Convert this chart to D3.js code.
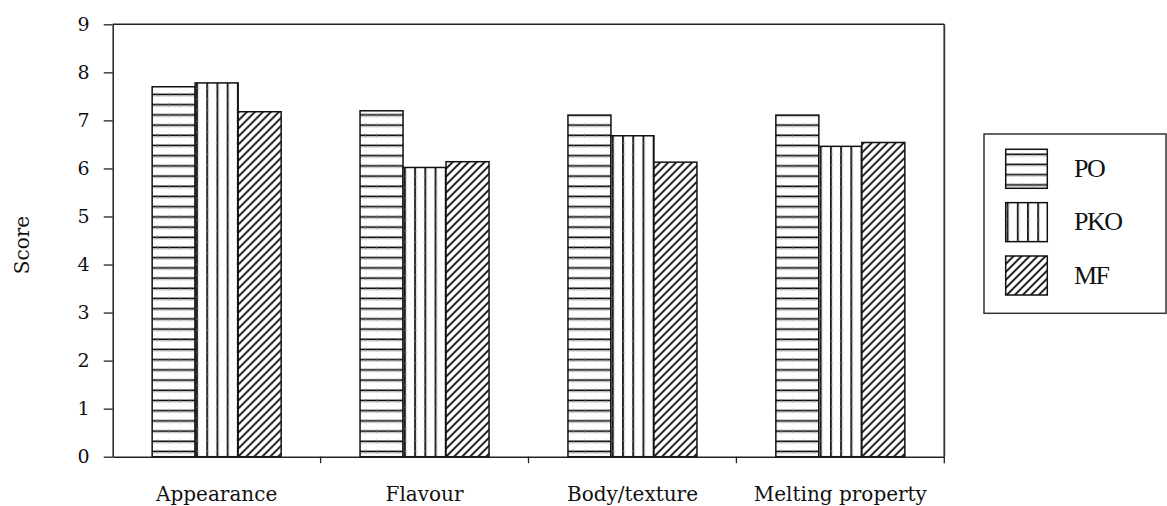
<!DOCTYPE html>
<html><head><meta charset="utf-8">
<script src="https://cdn.jsdelivr.net/npm/d3@7"></script>
<style>body{margin:0;background:#fff} svg{display:block}</style>
</head><body>
<svg id="chart" width="1167" height="506"></svg>
<script>
const categories = ["Appearance", "Flavour", "Body/texture", "Melting property"];
const seriesNames = ["PO", "PKO", "MF"];
const PO  = [7.70, 7.20, 7.11, 7.11];
const PKO = [7.78, 6.02, 6.68, 6.46];
const MF  = [7.18, 6.14, 6.13, 6.54];
const yTicks = [0, 1, 2, 3, 4, 5, 6, 7, 8, 9];
const yLabel = "Score";

const seriesValues = { PO: PO, PKO: PKO, MF: MF };
const patternType = { PO: "h", PKO: "v", MF: "d" };

const svg = d3.select("#chart");
const defs = svg.append("defs");
const L = 112.7, T = 24.3, R = 944.3, B = 456.7;
const FONT = "'DejaVu Serif', serif";

const x = d3.scaleBand().domain(categories).range([L, R]);
const groupW = 129;
const xs = d3.scaleBand().domain(seriesNames).range([0, groupW]);
const y = d3.scaleLinear().domain([0, 9]).range([B, T]);

function makePattern(id, type, ox, oy) {
  let p;
  if (type === "h") {
    p = defs.append("pattern").attr("id", id).attr("patternUnits", "userSpaceOnUse")
      .attr("x", ox).attr("y", oy).attr("width", 11).attr("height", 10.2);
    p.append("rect").attr("width", 11).attr("height", 10.2).attr("fill", "#fff");
    p.append("line").attr("x1", 0).attr("x2", 11).attr("y1", 5).attr("y2", 5)
      .attr("stroke", "#000").attr("stroke-width", 1.6);
    p.append("line").attr("x1", 0).attr("x2", 11).attr("y1", 6.6).attr("y2", 6.6)
      .attr("stroke", "#bbb").attr("stroke-width", 0.8);
    p.append("line").attr("x1", 5.5).attr("x2", 5.5).attr("y1", 3.4).attr("y2", 6.6)
      .attr("stroke", "#777").attr("stroke-width", 0.7);
  } else if (type === "v") {
    p = defs.append("pattern").attr("id", id).attr("patternUnits", "userSpaceOnUse")
      .attr("x", ox).attr("y", oy).attr("width", 10.2).attr("height", 11);
    p.append("rect").attr("width", 10.2).attr("height", 11).attr("fill", "#fff");
    p.append("line").attr("y1", 0).attr("y2", 11).attr("x1", 1.8).attr("x2", 1.8)
      .attr("stroke", "#000").attr("stroke-width", 1.6);
    p.append("line").attr("y1", 0).attr("y2", 11).attr("x1", 3.4).attr("x2", 3.4)
      .attr("stroke", "#ccc").attr("stroke-width", 0.7);
    p.append("line").attr("y1", 5.5).attr("y2", 5.5).attr("x1", 0.5).attr("x2", 3.4)
      .attr("stroke", "#777").attr("stroke-width", 0.7);
  } else {
    p = defs.append("pattern").attr("id", id).attr("patternUnits", "userSpaceOnUse")
      .attr("x", ox).attr("y", oy).attr("width", 8).attr("height", 8);
    p.append("rect").attr("width", 8).attr("height", 8).attr("fill", "#fff");
    p.append("path").attr("d", "M-2,2 L2,-2 M0,8 L8,0 M6,10 L10,6")
      .attr("stroke", "#000").attr("stroke-width", 1.7).attr("stroke-linecap", "square");
  }
}

// bars
const barData = [];
categories.forEach((c, i) => {
  seriesNames.forEach((s, j) => {
    barData.push({ cat: c, ser: s, value: seriesValues[s][i], i, j });
  });
});

const offset = (x.bandwidth() - groupW) / 2;
barData.forEach(d => {
  d.x0 = x(d.cat) + offset + xs(d.ser);
  makePattern(`pat-${d.i}-${d.j}`, patternType[d.ser], d.x0, B);
});

svg.append("g").selectAll("rect").data(barData).join("rect")
  .attr("x", d => d.x0)
  .attr("y", d => y(d.value))
  .attr("width", xs.bandwidth())
  .attr("height", d => y(0) - y(d.value))
  .attr("fill", d => `url(#pat-${d.i}-${d.j})`)
  .attr("stroke", "#111")
  .attr("stroke-width", 1.5);

// y axis
const yAxis = svg.append("g").attr("transform", `translate(${L},0)`)
  .call(d3.axisLeft(y).tickValues(yTicks).tickFormat(d3.format("d")).tickSize(9).tickSizeOuter(0).tickPadding(14));
yAxis.select(".domain").attr("stroke", "#222").attr("stroke-width", 1.5);
yAxis.selectAll(".tick line").attr("stroke", "#222").attr("stroke-width", 1.3);
yAxis.selectAll("text").attr("font-family", FONT).attr("font-size", 19).attr("fill", "#111");

// x axis
const xAxis = svg.append("g").attr("transform", `translate(0,${B})`)
  .call(d3.axisBottom(x).tickSize(0).tickPadding(30));
xAxis.select(".domain").attr("stroke", "#222").attr("stroke-width", 1.5);
xAxis.selectAll("text").attr("font-family", FONT).attr("font-size", 20).attr("fill", "#111");

// category boundary ticks
svg.append("g").selectAll("line").data(categories).join("line")
  .attr("x1", d => x(d) + x.bandwidth()).attr("x2", d => x(d) + x.bandwidth())
  .attr("y1", B).attr("y2", B + 6.5)
  .attr("stroke", "#222").attr("stroke-width", 1.3);

// frame top and right
svg.append("line").attr("x1", L).attr("x2", R).attr("y1", T).attr("y2", T)
  .attr("stroke", "#222").attr("stroke-width", 1.5);
svg.append("line").attr("x1", R).attr("x2", R).attr("y1", T).attr("y2", B)
  .attr("stroke", "#333").attr("stroke-width", 1.8);

// y label
svg.append("text").attr("transform", "translate(29,245) rotate(-90)")
  .attr("text-anchor", "middle").attr("font-family", FONT).attr("font-size", 20)
  .attr("fill", "#111").text(yLabel);

// legend
const lg = svg.append("g");
lg.append("rect").attr("x", 984).attr("y", 134).attr("width", 182).attr("height", 179.3)
  .attr("fill", "#fff").attr("stroke", "#333").attr("stroke-width", 1.5);
const legY = d3.scalePoint().domain(seriesNames).range([149.3, 256]);
seriesNames.forEach((s, k) => {
  makePattern(`leg-${k}`, patternType[s], 1005.7, legY(s));
});
lg.selectAll("rect.sw").data(seriesNames).join("rect").attr("class", "sw")
  .attr("x", 1005.7).attr("y", d => legY(d)).attr("width", 41.6).attr("height", 39)
  .attr("fill", (d, k) => `url(#leg-${k})`).attr("stroke", "#111").attr("stroke-width", 1.5);
lg.selectAll("text").data(seriesNames).join("text")
  .attr("x", 1074).attr("y", d => legY(d) + 27.5)
  .attr("font-family", "'Liberation Serif', serif").attr("font-size", 26)
  .attr("letter-spacing", -1.5).attr("fill", "#111").text(d => d);
</script>
</body></html>
